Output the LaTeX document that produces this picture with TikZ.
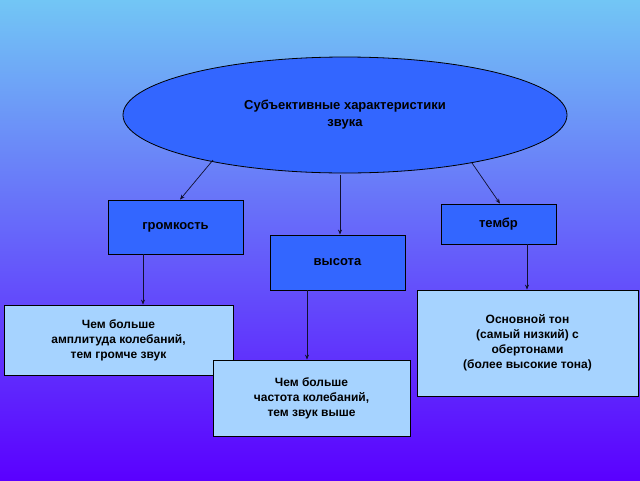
\documentclass[tikz,border=0pt]{standalone}
\usepackage{fontspec}
\setmainfont{Liberation Sans}
\usetikzlibrary{shapes.geometric,arrows.meta}
\definecolor{bgtop}{HTML}{72C6F5}
\definecolor{bgbot}{HTML}{5A00FF}
\definecolor{boxblue}{HTML}{3366FF}
\definecolor{lightb}{HTML}{A6D3FF}
\definecolor{arr}{HTML}{101030}
\begin{document}
\begin{tikzpicture}[x=1pt,y=-1pt,
 box/.style={draw=black,line width=0.8pt,fill=boxblue,font=\fontsize{13}{15}\selectfont\bfseries,inner sep=0pt},
 lbox/.style={draw=black,line width=0.8pt,fill=lightb,font=\fontsize{12}{15}\selectfont\bfseries,align=center,inner sep=0pt},
 ar/.style={draw=arr,line width=0.7pt,-{Stealth[length=5pt,width=4pt]}}]
\shade[top color=bgtop,bottom color=bgbot] (0,0) rectangle (640,480);
\useasboundingbox (0,0) rectangle (640,480);
\node[ellipse,draw=black,line width=0.8pt,fill=boxblue,minimum width=444pt,minimum height=116pt,align=center,font=\fontsize{13}{17}\selectfont\bfseries] (e) at (345,115) {Субъективные характеристики\\звука};
\node[box,minimum width=135pt,minimum height=54pt] (g) at (175.5,227) {громкость};
\node[box,minimum width=115pt,minimum height=40pt] (t) at (498.5,224) {тембр};
\node[box,minimum width=135pt,minimum height=55pt] (v) at (337.5,262.5) {высота};
\node[lbox,minimum width=229pt,minimum height=70pt] (lg) at (118.5,340) {Чем больше\\амплитуда колебаний,\\тем громче звук};
\node[lbox,minimum width=197pt,minimum height=76pt] (lv) at (311.5,398) {Чем больше\\частота колебаний,\\тем звук выше};
\node[lbox,minimum width=221pt,minimum height=106pt] (lt) at (527.5,343) {Основной тон\\(самый низкий) с\\обертонами\\(более высокие тона)};
\coordinate (e1) at (213,160); \coordinate (e2) at (340,175); \coordinate (e3) at (472,163);
\draw[ar] (e1) -- (g.north -| 180,0);
\draw[ar] (e2) -- (v.north -| 340,0);
\draw[ar] (e3) -- (t.north -| 500,0);
\draw[ar] (g.south -| 143,0) -- (lg.north -| 143,0);
\draw[ar] (v.south -| 307,0) -- (lv.north -| 307,0);
\draw[ar] (t.south -| 527,0) -- (lt.north -| 527,0);
\end{tikzpicture}
\end{document}
